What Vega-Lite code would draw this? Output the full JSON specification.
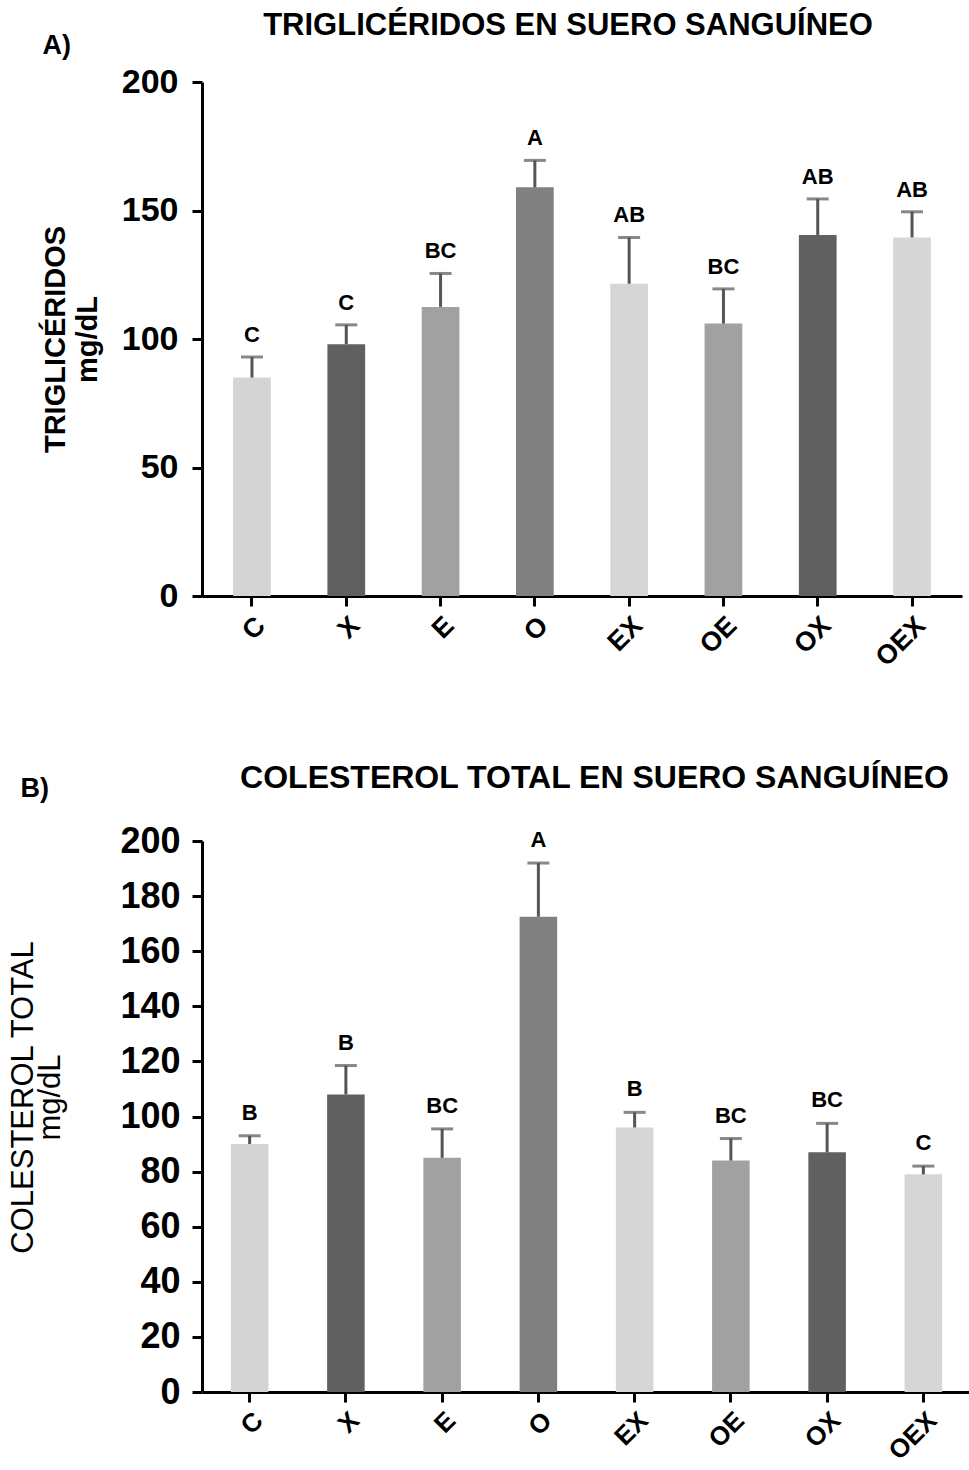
{
  "$schema": "https://vega.github.io/schema/vega-lite/v6.json",
  "background": "white",
  "padding": {"left": 7, "top": 10, "right": 0, "bottom": 0},
  "bounds": "flush",
  "spacing": 245,
  "config": {
    "view": {"stroke": null},
    "font": "Liberation Sans",
    "axis": {
      "domainColor": "black", "domainWidth": 3, "tickColor": "black", "tickWidth": 3, "tickSize": 10,
      "grid": false, "labelColor": "black", "titleColor": "black",
      "labelFont": "Liberation Sans", "titleFont": "Liberation Sans"
    }
  },
  "datasets": {
    "trig": [
      {"grupo": "C", "valor": 85, "sup": 93, "letra": "C"},
      {"grupo": "X", "valor": 98, "sup": 105.5, "letra": "C"},
      {"grupo": "E", "valor": 112.5, "sup": 125.5, "letra": "BC"},
      {"grupo": "O", "valor": 159, "sup": 169.5, "letra": "A"},
      {"grupo": "EX", "valor": 121.5, "sup": 139.5, "letra": "AB"},
      {"grupo": "OE", "valor": 106, "sup": 119.5, "letra": "BC"},
      {"grupo": "OX", "valor": 140.5, "sup": 154.5, "letra": "AB"},
      {"grupo": "OEX", "valor": 139.5, "sup": 149.5, "letra": "AB"}
    ],
    "col": [
      {"grupo": "C", "valor": 90, "sup": 93, "letra": "B"},
      {"grupo": "X", "valor": 108, "sup": 118.5, "letra": "B"},
      {"grupo": "E", "valor": 85, "sup": 95.5, "letra": "BC"},
      {"grupo": "O", "valor": 172.5, "sup": 192, "letra": "A"},
      {"grupo": "EX", "valor": 96, "sup": 101.5, "letra": "B"},
      {"grupo": "OE", "valor": 84, "sup": 92, "letra": "BC"},
      {"grupo": "OX", "valor": 87, "sup": 97.5, "letra": "BC"},
      {"grupo": "OEX", "valor": 79, "sup": 82, "letra": "C"}
    ]
  },
  "vconcat": [
    {
      "width": 760,
      "height": 514,
      "data": {"name": "trig"},
      "title": {"text": "TRIGLICÉRIDOS EN SUERO SANGUÍNEO", "fontSize": 31, "fontWeight": "bold", "font": "Liberation Sans", "color": "black", "anchor": "middle", "dx": -14, "offset": -11},
      "resolve": {"axis": {"x": "independent"}},
      "layer": [
        {
          "mark": {"type": "bar"},
          "encoding": {
            "x": {
              "field": "grupo", "type": "nominal",
              "sort": ["C", "X", "E", "O", "EX", "OE", "OX", "OEX"],
              "scale": {"paddingInner": 0.6, "paddingOuter": 0.33},
              "axis": {"title": null, "labelAngle": -45, "labelFontSize": 27, "labelFontWeight": "bold", "labelPadding": 6}
            },
            "y": {
              "field": "valor", "type": "quantitative",
              "scale": {"domain": [0, 200], "nice": false},
              "axis": {
                "values": [0, 50, 100, 150, 200], "labelFontSize": 34, "labelFontWeight": "bold", "labelPadding": 14,
                "title": ["TRIGLICÉRIDOS", "mg/dL"], "titleFontSize": 29, "titleFontWeight": "bold", "titlePadding": 19, "titleLineHeight": 32
              }
            },
            "color": {
              "field": "grupo", "type": "nominal", "legend": null,
              "scale": {
                "domain": ["C", "X", "E", "O", "EX", "OE", "OX", "OEX"],
                "range": ["#d4d4d4", "#606060", "#a1a1a1", "#808080", "#d6d6d6", "#a1a1a1", "#606060", "#d6d6d6"]
              }
            }
          }
        },
        {
          "mark": {"type": "rule", "color": "#555555", "strokeWidth": 3},
          "encoding": {
            "x": {"field": "grupo", "type": "nominal", "sort": ["C", "X", "E", "O", "EX", "OE", "OX", "OEX"], "axis": null},
            "y": {"field": "valor", "type": "quantitative"}, "y2": {"field": "sup"}
          }
        },
        {
          "mark": {"type": "tick", "color": "#555555", "thickness": 3, "size": 22},
          "encoding": {
            "x": {"field": "grupo", "type": "nominal", "sort": ["C", "X", "E", "O", "EX", "OE", "OX", "OEX"], "axis": null},
            "y": {"field": "sup", "type": "quantitative"}
          }
        },
        {
          "mark": {"type": "text", "fontSize": 22, "fontWeight": "bold", "color": "black", "baseline": "bottom", "dy": -10},
          "encoding": {
            "x": {
              "field": "grupo", "type": "nominal", "sort": ["C", "X", "E", "O", "EX", "OE", "OX", "OEX"],
              "axis": {"orient": "top", "labels": false, "ticks": false, "domain": false, "title": "A)", "titleFontSize": 27, "titleFontWeight": "bold", "titleAlign": "left", "titleBaseline": "alphabetic", "titleX": -160, "titleY": -29}
            },
            "y": {"field": "sup", "type": "quantitative"},
            "text": {"field": "letra"}
          }
        }
      ]
    },
    {
      "width": 769,
      "height": 551,
      "data": {"name": "col"},
      "title": {"text": "COLESTEROL TOTAL EN SUERO SANGUÍNEO", "fontSize": 32, "fontWeight": "bold", "font": "Liberation Sans", "color": "black", "anchor": "middle", "dx": 8, "offset": -21},
      "resolve": {"axis": {"x": "independent"}},
      "layer": [
        {
          "mark": {"type": "bar"},
          "encoding": {
            "x": {
              "field": "grupo", "type": "nominal",
              "sort": ["C", "X", "E", "O", "EX", "OE", "OX", "OEX"],
              "scale": {"paddingInner": 0.61, "paddingOuter": 0.3},
              "axis": {"title": null, "labelAngle": -45, "labelFontSize": 26, "labelFontWeight": "bold", "labelPadding": 5}
            },
            "y": {
              "field": "valor", "type": "quantitative",
              "scale": {"domain": [0, 200], "nice": false},
              "axis": {
                "values": [0, 20, 40, 60, 80, 100, 120, 140, 160, 180, 200], "labelFontSize": 36, "labelFontWeight": "bold", "labelPadding": 12,
                "title": ["COLESTEROL TOTAL", "mg/dL"], "titleFontSize": 31, "titleFontWeight": "normal", "titlePadding": 53, "titleLineHeight": 27, "titleY": 256
              }
            },
            "color": {
              "field": "grupo", "type": "nominal", "legend": null,
              "scale": {
                "domain": ["C", "X", "E", "O", "EX", "OE", "OX", "OEX"],
                "range": ["#d4d4d4", "#606060", "#a1a1a1", "#808080", "#d6d6d6", "#a1a1a1", "#606060", "#d6d6d6"]
              }
            }
          }
        },
        {
          "mark": {"type": "rule", "color": "#555555", "strokeWidth": 3},
          "encoding": {
            "x": {"field": "grupo", "type": "nominal", "sort": ["C", "X", "E", "O", "EX", "OE", "OX", "OEX"], "axis": null},
            "y": {"field": "valor", "type": "quantitative"}, "y2": {"field": "sup"}
          }
        },
        {
          "mark": {"type": "tick", "color": "#555555", "thickness": 3, "size": 22},
          "encoding": {
            "x": {"field": "grupo", "type": "nominal", "sort": ["C", "X", "E", "O", "EX", "OE", "OX", "OEX"], "axis": null},
            "y": {"field": "sup", "type": "quantitative"}
          }
        },
        {
          "mark": {"type": "text", "fontSize": 22, "fontWeight": "bold", "color": "black", "baseline": "bottom", "dy": -11},
          "encoding": {
            "x": {
              "field": "grupo", "type": "nominal", "sort": ["C", "X", "E", "O", "EX", "OE", "OX", "OEX"],
              "axis": {"orient": "top", "labels": false, "ticks": false, "domain": false, "title": "B)", "titleFontSize": 27, "titleFontWeight": "bold", "titleAlign": "left", "titleBaseline": "alphabetic", "titleX": -182, "titleY": -45}
            },
            "y": {"field": "sup", "type": "quantitative"},
            "text": {"field": "letra"}
          }
        }
      ]
    }
  ]
}
